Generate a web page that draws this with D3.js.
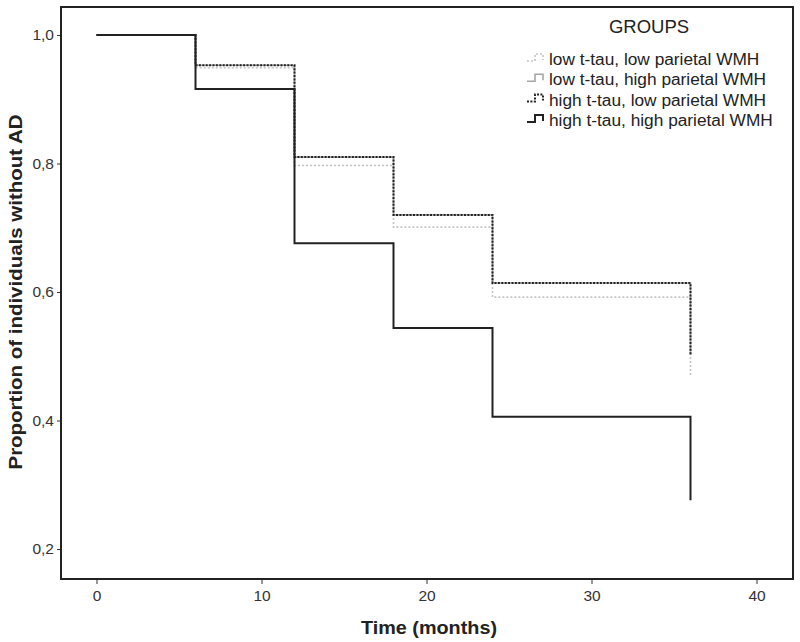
<!DOCTYPE html>
<meta charset="utf-8">
<html>
<head>
<style>
    body { margin: 0; background: #fff; }
    svg text { font-family: "Liberation Sans", Arial, sans-serif; }
    .axis text { fill: #333; font-size: 15.5px; }
    .axis line { stroke: #333; }
</style>
</head>
<body>
<svg width="800" height="642"></svg>
<script src="https://d3js.org/d3.v7.min.js"></script>
<script>

    // step times (months) and survival proportions per group
    var times = [0, 6, 12, 18, 24, 36];
    var groups = ["low t-tau, low parietal WMH", "low t-tau, high parietal WMH",
                  "high t-tau, low parietal WMH", "high t-tau, high parietal WMH"];
    var lowLow   = [1.0, 0.949, 0.797, 0.701, 0.592, 0.471];
    var lowHigh  = [1.0, 0.953, 0.810, 0.720, 0.614, 0.502]; // hidden under high/low
    var highLow  = [1.0, 0.953, 0.810, 0.720, 0.614, 0.502];
    var highHigh = [1.0, 0.916, 0.676, 0.544, 0.406, 0.276];
    var xTicks = [0, 10, 20, 30, 40];
    var yTicks = [0.2, 0.4, 0.6, 0.8, 1.0];

    var series = [lowLow, lowHigh, highLow, highHigh];
    var styles = [
        {color: "#c4c4c4", width: 1.6, dash: "2,2"},
        {color: "#a6a6a6", width: 1.6, dash: null},
        {color: "#222", width: 2, dash: "2,1.4"},
        {color: "#222", width: 2, dash: null}
    ];

    var svg = d3.select("svg");

    var x = d3.scaleLinear().domain([0, 40]).range([96.5, 756.5]);
    var y = d3.scaleLinear().domain([0.2, 1.0]).range([549, 35]);

    var frame = {left: 61, top: 7, right: 793, bottom: 579};

    // axes
    var yAxis = d3.axisLeft(y).tickValues(yTicks).tickSize(4).tickPadding(3)
        .tickFormat(d => d3.format(".1f")(d).replace(".", ","));
    svg.append("g").attr("class", "axis")
        .attr("transform", "translate(" + frame.left + ",0)")
        .call(yAxis)
        .call(g => g.select(".domain").remove());

    var xAxis = d3.axisBottom(x).tickValues(xTicks).tickSize(5).tickPadding(6);
    svg.append("g").attr("class", "axis")
        .attr("transform", "translate(0," + frame.bottom + ")")
        .call(xAxis)
        .call(g => g.select(".domain").remove());

    svg.append("rect")
        .attr("x", frame.left).attr("y", frame.top)
        .attr("width", frame.right - frame.left)
        .attr("height", frame.bottom - frame.top)
        .attr("fill", "none").attr("stroke", "#222").attr("stroke-width", 2);

    // step curves
    function stepPath(vals) {
        var p = "M" + x(times[0]) + "," + y(vals[0]);
        for (var i = 1; i < times.length; i++) {
            p += "H" + x(times[i]) + "V" + y(vals[i]);
        }
        return p;
    }

    series.forEach(function(vals, i) {
        svg.append("path")
            .attr("d", stepPath(vals))
            .attr("fill", "none")
            .attr("stroke", styles[i].color)
            .attr("stroke-width", styles[i].width)
            .attr("stroke-dasharray", styles[i].dash);
    });

    // axis titles
    svg.append("text")
        .attr("x", 429).attr("y", 634)
        .attr("text-anchor", "middle")
        .attr("font-size", 18).attr("font-weight", "bold").attr("fill", "#222")
        .attr("textLength", 136).attr("lengthAdjust", "spacingAndGlyphs")
        .text("Time (months)");

    svg.append("text")
        .attr("transform", "translate(22,292) rotate(-90)")
        .attr("text-anchor", "middle")
        .attr("font-size", 18).attr("font-weight", "bold").attr("fill", "#222")
        .attr("textLength", 355).attr("lengthAdjust", "spacingAndGlyphs")
        .text("Proportion of individuals without AD");

    // legend
    var legend = svg.append("g");
    legend.append("text")
        .attr("x", 649).attr("y", 33)
        .attr("text-anchor", "middle")
        .attr("font-size", 18.5).attr("fill", "#222")
        .text("GROUPS");

    groups.forEach(function(name, i) {
        var by = 65 + i * 20.3;
        var x0 = 527;
        legend.append("path")
            .attr("d", "M" + x0 + "," + (by - 4) + "H" + (x0 + 8) + "V" + (by - 11) +
                       "H" + (x0 + 16) + "V" + (by - 5))
            .attr("fill", "none")
            .attr("stroke", styles[i].color)
            .attr("stroke-width", styles[i].width)
            .attr("stroke-dasharray", styles[i].dash);
        legend.append("text")
            .attr("x", 549).attr("y", by)
            .attr("font-size", 17.3).attr("fill", "#222")
            .text(name);
    });
</script>
</body>
</html>
